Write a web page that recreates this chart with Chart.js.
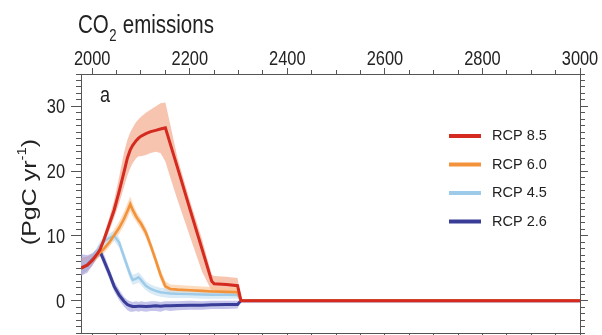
<!DOCTYPE html>
<html>
<head>
<meta charset="utf-8">
<script src="https://cdn.jsdelivr.net/npm/chart.js@4.4.1/dist/chart.umd.min.js"></script>
<style>
  html, body { margin: 0; padding: 0; background: #fff; }
  #wrap { width: 602px; height: 335px; position: relative; }
</style>
</head>
<body>
<div id="wrap"><canvas id="co2Chart"></canvas></div>
<script>
// Emissions de CO2 par scénario RCP.

const years = [1977, 1990, 2000, 2010, 2016, 2025, 2035, 2045, 2055, 2065, 2072, 2078, 2083, 2090, 2095, 2100,
  2110, 2120, 2130, 2140, 2150, 2160, 2175, 2200, 2225, 2245, 2250, 2275, 2298, 2305, 3000];

const rcp85 = [5.0, 5.5, 6.2, 7.2, 7.9, 9.6, 11.8, 14.0, 16.8, 19.8, 22.0, 23.3, 24.0, 24.7, 25.1, 25.4,
  25.8, 26.1, 26.3, 26.5, 26.7, 24.2, 20.5, 14.2, 8.0, 3.0, 2.6, 2.5, 2.3, 0, 0];
const rcp85Hi = [6.6, 6.8, 7.2, 8.0, 8.6, 10.4, 12.8, 15.5, 19.0, 22.8, 24.8, 26.0, 26.7, 27.6, 28.0, 28.4,
  29.0, 29.5, 30.0, 30.5, 30.6, 27.2, 22.0, 15.5, 9.5, 4.0, 3.8, 3.7, 3.5, 0, 0];
const rcp85Lo = [4.0, 4.6, 5.4, 6.5, 7.2, 8.8, 10.8, 12.8, 15.0, 17.5, 19.3, 20.5, 21.2, 22.0, 22.3, 22.3,
  22.5, 22.8, 23.0, 22.8, 21.5, 19.0, 15.5, 10.0, 4.5, 1.5, 1.2, 1.1, 1.0, 0, 0];

const rcp60 = [5.0, 5.5, 6.2, 7.0, 7.4, 8.1, 9.0, 10.1, 11.2, 12.6, 13.8, 14.9, 14.0, 13.0, 12.4, 11.9,
  10.5, 8.5, 6.3, 4.0, 2.2, 1.8, 1.7, 1.6, 1.5, 1.4, 1.4, 1.35, 1.3, 0, 0];
const rcp60Hi = [6.0, 6.2, 6.8, 7.6, 8.0, 8.8, 9.8, 11.0, 12.2, 13.7, 15.0, 16.1, 15.0, 13.8, 13.2, 12.7,
  11.3, 9.3, 7.1, 4.8, 3.0, 2.5, 2.4, 2.3, 2.2, 2.1, 2.1, 2.0, 2.0, 0, 0];
const rcp60Lo = [4.2, 4.8, 5.6, 6.4, 6.8, 7.4, 8.3, 9.3, 10.3, 11.6, 12.7, 13.8, 13.0, 12.2, 11.6, 11.1,
  9.7, 7.7, 5.5, 3.2, 1.5, 1.2, 1.1, 1.0, 0.9, 0.8, 0.8, 0.8, 0.7, 0, 0];

const rcp45 = [5.0, 5.5, 6.3, 7.6, 8.5, 9.2, 9.7, 10.0, 9.0, 6.8, 5.3, 4.0, 3.2, 3.4, 3.6, 3.2,
  2.3, 1.8, 1.5, 1.3, 1.2, 1.1, 1.05, 1.0, 0.95, 0.9, 0.9, 0.9, 0.85, 0, 0];
const rcp45Hi = [6.0, 6.3, 7.0, 8.3, 9.2, 9.9, 10.4, 10.8, 9.8, 7.6, 6.1, 4.8, 4.0, 4.2, 4.4, 4.0,
  3.0, 2.5, 2.2, 2.0, 1.9, 1.8, 1.7, 1.6, 1.6, 1.5, 1.5, 1.5, 1.4, 0, 0];
const rcp45Lo = [4.0, 4.7, 5.6, 6.9, 7.8, 8.5, 9.0, 9.2, 8.2, 6.0, 4.5, 3.2, 2.4, 2.6, 2.8, 2.4,
  1.6, 1.1, 0.8, 0.6, 0.5, 0.4, 0.4, 0.4, 0.3, 0.3, 0.3, 0.3, 0.3, 0, 0];

const rcp26 = [5.0, 5.5, 6.3, 7.3, 7.6, 6.0, 4.2, 2.2, 0.9, -0.1, -0.6, -0.8, -0.9, -0.9, -0.85, -0.85,
  -0.9, -0.85, -0.8, -0.85, -0.8, -0.8, -0.75, -0.7, -0.7, -0.65, -0.65, -0.6, -0.6, 0, 0];
const rcp26Hi = [7.2, 7.0, 7.3, 8.0, 8.3, 7.0, 5.0, 3.0, 1.7, 0.6, 0.1, -0.1, -0.2, -0.1, -0.2, -0.1,
  -0.2, -0.1, -0.1, -0.2, -0.1, -0.1, -0.1, 0.0, -0.1, 0.0, 0.0, 0.0, 0.0, 0, 0];
const rcp26Lo = [3.8, 4.3, 5.4, 6.6, 6.9, 5.2, 3.4, 1.4, 0.1, -0.9, -1.5, -1.7, -1.7, -1.6, -1.7, -1.6,
  -1.7, -1.6, -1.6, -1.7, -1.5, -1.6, -1.5, -1.4, -1.4, -1.3, -1.3, -1.3, -1.2, 0, 0];

const labels = ['RCP 8.5', 'RCP 6.0', 'RCP 4.5', 'RCP 2.6'];
const xTickLabels = [2000, 2200, 2400, 2600, 2800, 3000];
const yTickLabels = [0, 10, 20, 30];

const xMin = 1977, xMax = 3000, yMin = -5, yMax = 35;
const font = "'Liberation Sans', Arial, sans-serif";
const squeeze = 0.82; // la figure d'origine est comprimée horizontalement
const axisColor = '#555';
const textColor = '#222';

const series = [
  { label: labels[0], mid: rcp85, hi: rcp85Hi, lo: rcp85Lo, line: '#d42a1f', band: 'rgba(242,160,128,0.62)', width: 3 },
  { label: labels[1], mid: rcp60, hi: rcp60Hi, lo: rcp60Lo, line: '#f2923a', band: 'rgba(250,196,146,0.6)', width: 2.6 },
  { label: labels[2], mid: rcp45, hi: rcp45Hi, lo: rcp45Lo, line: '#9ecbe9', band: 'rgba(196,224,242,0.65)', width: 2.4 },
  { label: labels[3], mid: rcp26, hi: rcp26Hi, lo: rcp26Lo, line: '#393d98', band: 'rgba(150,148,218,0.55)', width: 3 },
];

const pts = (vals) => years.map((x, i) => ({ x, y: vals[i] }));
const tickList = (from, to, step) => {
  const out = [];
  for (let v = from; v <= to + 1e-9; v += step) out.push({ value: v });
  return out;
};

// bandes (haut + bas), puis les courbes par-dessus
const datasets = [];
series.forEach((s, i) => {
  const idx = datasets.length;
  datasets.push({ data: pts(s.hi), fill: idx + 1, backgroundColor: s.band, borderWidth: 0, pointRadius: 0, order: 10 + (3 - i) });
  datasets.push({ data: pts(s.lo), fill: false, borderWidth: 0, pointRadius: 0, order: 10 + (3 - i) });
});
series.forEach((s, i) => {
  datasets.push({ label: s.label, data: pts(s.mid), borderColor: s.line, borderWidth: s.width, pointRadius: 0, fill: false, order: i });
});

const noLabels = { display: false };
const tickGrid = (len) => ({ drawOnChartArea: false, tickLength: len, color: axisColor, lineWidth: 1 });

// texte comprimé horizontalement, comme sur la figure
function squeezedText(ctx, text, x, y, size, align) {
  ctx.save();
  ctx.translate(x, y);
  ctx.scale(squeeze, 1);
  ctx.font = `${size}px ${font}`;
  ctx.textAlign = align;
  ctx.fillText(text, 0, 0);
  ctx.restore();
}

// étiquettes des axes, titres, lettre du panneau et légende
const decor = {
  id: 'decor',
  afterDraw(chart) {
    const ctx = chart.ctx;
    const { x: xs, y: ys } = chart.scales;
    ctx.save();
    ctx.fillStyle = textColor;
    ctx.textBaseline = 'alphabetic';

    xTickLabels.forEach((v) => squeezedText(ctx, String(v), xs.getPixelForValue(v), 65, 20, 'center'));
    yTickLabels.forEach((v) => squeezedText(ctx, String(v), 65, ys.getPixelForValue(v) + 7, 20, 'right'));

    // titre : CO2 emissions
    ctx.font = `25px ${font}`;
    const wCO = ctx.measureText('CO').width * squeeze;
    ctx.font = `16px ${font}`;
    const w2 = ctx.measureText('2').width * squeeze;
    squeezedText(ctx, 'CO', 78, 33, 25, 'left');
    squeezedText(ctx, '2', 78 + wCO + 0.5, 41, 16, 'left');
    squeezedText(ctx, ' emissions', 78 + wCO + w2 + 1, 33, 25, 'left');

    squeezedText(ctx, 'a', 100, 102, 22, 'left');

    // titre vertical
    ctx.save();
    ctx.translate(30, 192);
    ctx.scale(squeeze, 1);
    ctx.rotate(-Math.PI / 2);
    const a = '(PgC yr', sup = '-1', b = ')';
    ctx.font = `25px ${font}`;
    const wa = ctx.measureText(a).width, wb = ctx.measureText(b).width;
    ctx.font = `15px ${font}`;
    const ws = ctx.measureText(sup).width;
    let tx = -(wa + ws + wb) / 2;
    ctx.textBaseline = 'middle';
    ctx.font = `25px ${font}`;
    ctx.fillText(a, tx, 0);
    tx += wa;
    ctx.font = `15px ${font}`;
    ctx.fillText(sup, tx, -9);
    tx += ws;
    ctx.font = `25px ${font}`;
    ctx.fillText(b, tx, 0);
    ctx.restore();

    // légende
    ctx.font = `14.5px ${font}`;
    ctx.textBaseline = 'middle';
    ctx.textAlign = 'left';
    series.forEach((s, i) => {
      const y = 136 + i * 28.5;
      ctx.strokeStyle = s.line;
      ctx.lineWidth = 4;
      ctx.beginPath();
      ctx.moveTo(449, y);
      ctx.lineTo(481, y);
      ctx.stroke();
      ctx.fillStyle = textColor;
      ctx.fillText(s.label, 492, y);
    });
    ctx.restore();
  },
};

new Chart(document.getElementById('co2Chart'), {
  type: 'line',
  data: { datasets },
  options: {
    responsive: true,
    maintainAspectRatio: false,
    animation: false,
    events: [],
    layout: { padding: 0, autoPadding: false },
    elements: { line: { tension: 0 } },
    plugins: { legend: { display: false }, tooltip: { enabled: false } },
    scales: {
      x: {
        type: 'linear', position: 'top', min: xMin, max: xMax, weight: 1,
        afterBuildTicks: (s) => { s.ticks = xTickLabels.map((v) => ({ value: v })); },
        afterFit: (s) => { s.height = 74; },
        ticks: noLabels, grid: tickGrid(6), border: { color: axisColor },
      },
      xMinor: {
        type: 'linear', position: 'top', min: xMin, max: xMax, weight: 0,
        afterBuildTicks: (s) => { s.ticks = tickList(2000, 3000, 50); },
        afterFit: (s) => { s.height = 0; },
        ticks: noLabels, grid: tickGrid(4), border: { display: false },
      },
      xBottom: {
        type: 'linear', position: 'bottom', min: xMin, max: xMax, weight: 1,
        afterBuildTicks: (s) => { s.ticks = tickList(2000, 3000, 50); },
        afterFit: (s) => { s.height = 2; },
        ticks: noLabels, grid: tickGrid(4), border: { color: axisColor },
      },
      y: {
        type: 'linear', position: 'left', min: yMin, max: yMax, weight: 1,
        afterBuildTicks: (s) => { s.ticks = yTickLabels.map((v) => ({ value: v })); },
        afterFit: (s) => { s.width = 81; },
        ticks: noLabels, grid: tickGrid(10), border: { color: axisColor },
      },
      yMinor: {
        type: 'linear', position: 'left', min: yMin, max: yMax, weight: 0,
        afterBuildTicks: (s) => { s.ticks = tickList(yMin, yMax, 1); },
        afterFit: (s) => { s.width = 0; },
        ticks: noLabels, grid: tickGrid(5), border: { display: false },
      },
      yRight: {
        type: 'linear', position: 'right', min: yMin, max: yMax, weight: 1,
        afterBuildTicks: (s) => { s.ticks = tickList(yMin, yMax, 1); },
        afterFit: (s) => { s.width = 22; },
        ticks: noLabels, grid: tickGrid(5), border: { color: axisColor },
      },
      yRightMajor: {
        type: 'linear', position: 'right', min: yMin, max: yMax, weight: 0,
        afterBuildTicks: (s) => { s.ticks = yTickLabels.map((v) => ({ value: v })); },
        afterFit: (s) => { s.width = 0; },
        ticks: noLabels, grid: tickGrid(8), border: { display: false },
      },
    },
  },
  plugins: [decor],
});
</script>
</body>
</html>
